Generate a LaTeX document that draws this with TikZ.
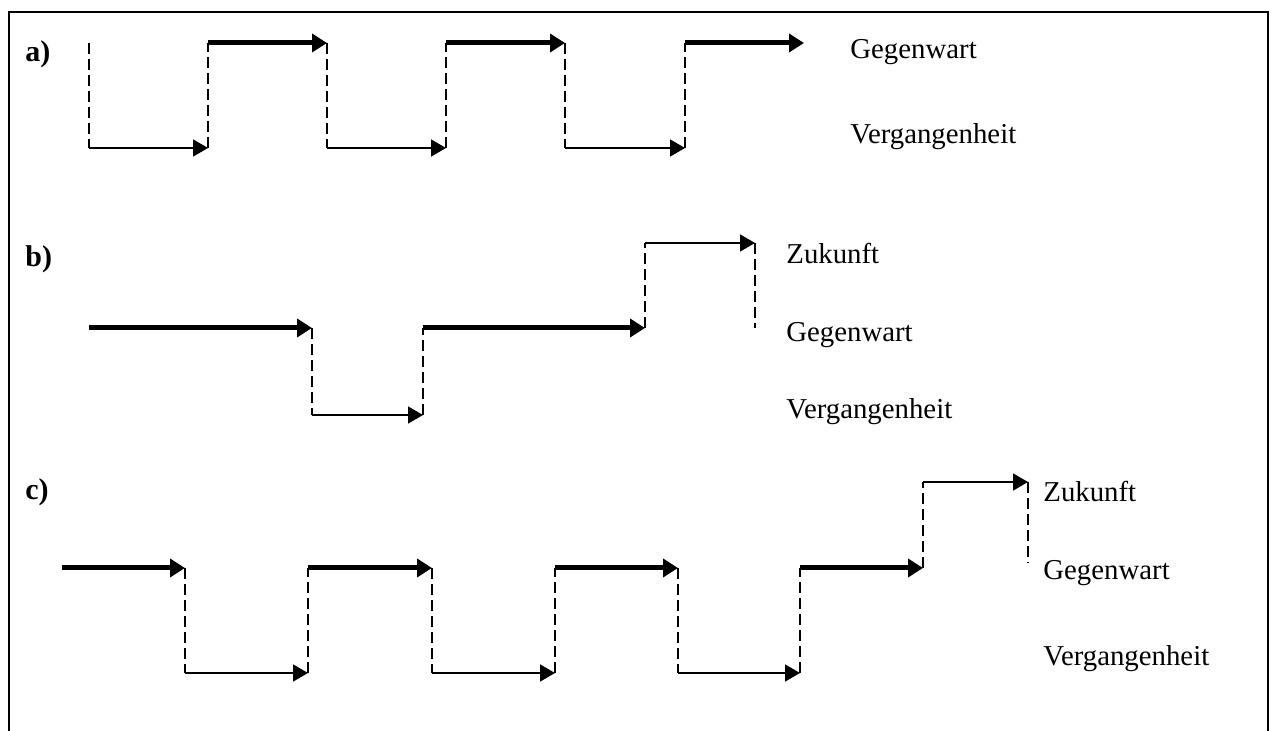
\documentclass[tikz,border=0pt]{standalone}
\usepackage{fontspec}
\setmainfont{Liberation Serif}
\usetikzlibrary{arrows.meta}
\begin{document}
\begin{tikzpicture}[x=0.5pt,y=-0.5pt,
  thickarr/.style={line width=2.5pt,-{Triangle[length=7.5pt,width=9pt]}},
  thinarr/.style={line width=0.8pt,-{Triangle[length=7.5pt,width=8.5pt]}},
  dashline/.style={line width=1.3pt,dash pattern=on 5.5pt off 2.5pt},
  lbl/.style={font=\fontsize{14.4}{17}\selectfont, anchor=base west, inner sep=0pt},
  plbl/.style={font=\bfseries\fontsize{15}{18}\selectfont, anchor=base west, inner sep=0pt}]
\useasboundingbox (0,0) rectangle (1274,731);
\draw[line width=1pt] (9,731) -- (9,12) -- (1268,12) -- (1268,731);

% ---------- a)
\foreach \i/\x in {0/89,1/208,2/327,3/446,4/565,5/685,6/804}{
  \coordinate (a\i t) at (\x,43);
  \coordinate (a\i b) at (\x,148);
}
\draw[dashline] (a0t) -- (a0b);
\draw[thinarr] (a0b) -- (a1b);
\draw[dashline] (a1b) -- (a1t);
\draw[thickarr] (a1t) -- (a2t);
\draw[dashline] (a2t) -- (a2b);
\draw[thinarr] (a2b) -- (a3b);
\draw[dashline] (a3b) -- (a3t);
\draw[thickarr] (a3t) -- (a4t);
\draw[dashline] (a4t) -- (a4b);
\draw[thinarr] (a4b) -- (a5b);
\draw[dashline] (a5b) -- (a5t);
\draw[thickarr] (a5t) -- (a6t);
\node[plbl] (la) at (25,62) {a)};
\node[lbl] (aG) at (850,59) {Gegenwart};
\node[lbl] (aV) at (850,144) {Vergangenheit};

% ---------- b)
\foreach \i/\x in {0/89,1/312,2/423,3/645,4/755}{
  \coordinate (b\i t) at (\x,243);
  \coordinate (b\i m) at (\x,328);
  \coordinate (b\i b) at (\x,415);
}
\draw[thickarr] (b0m) -- (b1m);
\draw[dashline] (b1m) -- (b1b);
\draw[thinarr] (b1b) -- (b2b);
\draw[dashline] (b2b) -- (b2m);
\draw[thickarr] (b2m) -- (b3m);
\draw[dashline] (b3m) -- (b3t);
\draw[thinarr] (b3t) -- (b4t);
\draw[dashline] (b4t) -- (b4m);
\node[plbl] (lb) at (25,267) {b)};
\node[lbl] (bZ) at (786,264) {Zukunft};
\node[lbl] (bG) at (786,342) {Gegenwart};
\node[lbl] (bV) at (786,419) {Vergangenheit};

% ---------- c)
\foreach \i/\x in {0/62,1/185,2/308,3/432,4/555,5/678,6/800,7/923,8/1028}{
  \coordinate (c\i t) at (\x,482);
  \coordinate (c\i m) at (\x,568);
  \coordinate (c\i b) at (\x,673);
}
\coordinate (cend) at (1028,563);
\draw[thickarr] (c0m) -- (c1m);
\draw[dashline] (c1m) -- (c1b);
\draw[thinarr] (c1b) -- (c2b);
\draw[dashline] (c2b) -- (c2m);
\draw[thickarr] (c2m) -- (c3m);
\draw[dashline] (c3m) -- (c3b);
\draw[thinarr] (c3b) -- (c4b);
\draw[dashline] (c4b) -- (c4m);
\draw[thickarr] (c4m) -- (c5m);
\draw[dashline] (c5m) -- (c5b);
\draw[thinarr] (c5b) -- (c6b);
\draw[dashline] (c6b) -- (c6m);
\draw[thickarr] (c6m) -- (c7m);
\draw[dashline] (c7m) -- (c7t);
\draw[thinarr] (c7t) -- (c8t);
\draw[dashline] (c8t) -- (cend);
\node[plbl] (lc) at (25,500) {c)};
\node[lbl] (cZ) at (1043,502) {Zukunft};
\node[lbl] (cG) at (1043,580) {Gegenwart};
\node[lbl] (cV) at (1043,665) {Vergangenheit};
\end{tikzpicture}
\end{document}
